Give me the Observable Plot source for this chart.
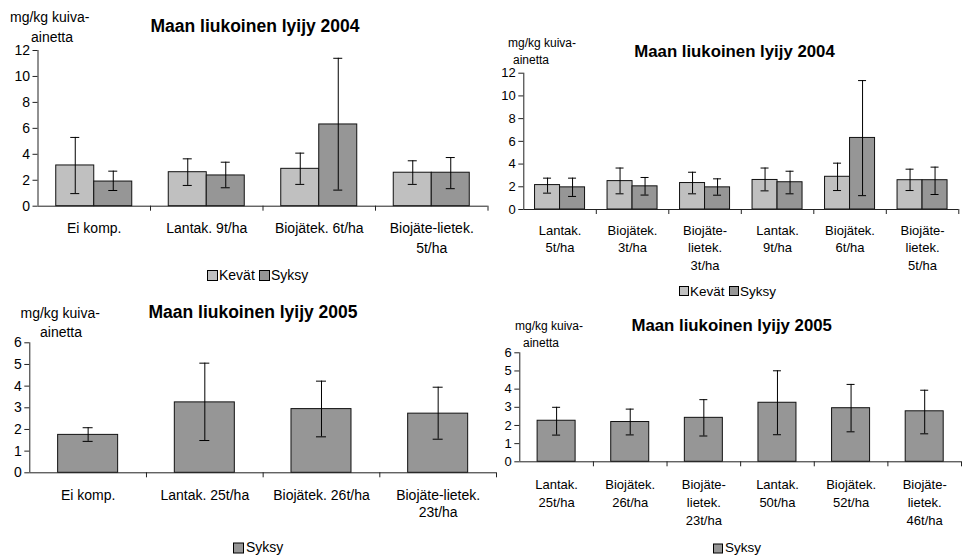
<!DOCTYPE html>
<html>
<head>
<meta charset="utf-8">
<script src="https://cdn.jsdelivr.net/npm/d3@7"></script>
<script src="https://cdn.jsdelivr.net/npm/@observablehq/plot@0.6"></script>
<style>
  html, body { margin: 0; padding: 0; background: #fff; }
  body { width: 962px; height: 555px; position: relative; overflow: hidden; font-family: 'Liberation Sans', Arial, Helvetica, sans-serif; }
  .panel { position: absolute; }
  .panel svg { max-width: none !important; background: none !important; overflow: visible; }
  #overlay { position: absolute; left: 0; top: 0; pointer-events: none; }
</style>
</head>
<body>
<div id="c1" class="panel"></div>
<div id="c2" class="panel"></div>
<div id="c3" class="panel"></div>
<div id="c4" class="panel"></div>
<script>
// ---------- DATA ----------
const title2004 = "Maan liukoinen lyijy 2004";
const title2005 = "Maan liukoinen lyijy 2005";
const unitLine1 = "mg/kg kuiva-";
const unitLine2 = "ainetta";
const seriesNames = ["Kevät", "Syksy"];

// Chart 1: 2004, four treatments
const cats2004a = ["Ei komp.", "Lantak. 9t/ha", "Biojätek. 6t/ha", "Biojäte-lietek.\n5t/ha"];
const kevat2004a   = [3.14, 2.62, 2.88, 2.58];
const kevat2004aHi = [5.30, 3.65, 4.09, 3.50];
const kevat2004aLo = [0.97, 1.60, 1.68, 1.68];
const syksy2004a   = [1.90, 2.37, 6.30, 2.58];
const syksy2004aHi = [2.70, 3.39, 11.40, 3.75];
const syksy2004aLo = [1.21, 1.42, 1.24, 1.35];

// Chart 2: 2004, six treatments
const cats2004b = ["Lantak.\n5t/ha", "Biojätek.\n3t/ha", "Biojäte-\nlietek.\n3t/ha", "Lantak.\n9t/ha", "Biojätek.\n6t/ha", "Biojäte-\nlietek.\n5t/ha"];
const kevat2004b   = [2.15, 2.50, 2.33, 2.60, 2.88, 2.58];
const kevat2004bHi = [2.76, 3.65, 3.28, 3.65, 4.08, 3.55];
const kevat2004bLo = [1.44, 1.38, 1.38, 1.64, 1.67, 1.67];
const syksy2004b   = [1.95, 2.04, 1.95, 2.40, 6.30, 2.58];
const syksy2004bHi = [2.76, 2.82, 2.70, 3.37, 11.35, 3.73];
const syksy2004bLo = [1.15, 1.27, 1.26, 1.38, 1.22, 1.32];

// Chart 3: 2005, four treatments
const cats2005a = ["Ei komp.", "Lantak. 25t/ha", "Biojätek. 26t/ha", "Biojäte-lietek.\n23t/ha"];
const syksy2005a   = [1.75, 3.25, 2.94, 2.73];
const syksy2005aHi = [2.08, 5.06, 4.23, 3.95];
const syksy2005aLo = [1.45, 1.49, 1.66, 1.55];

// Chart 4: 2005, six treatments
const cats2005b = ["Lantak.\n25t/ha", "Biojätek.\n26t/ha", "Biojäte-\nlietek.\n23t/ha", "Lantak.\n50t/ha", "Biojätek.\n52t/ha", "Biojäte-\nlietek.\n46t/ha"];
const syksy2005b   = [2.26, 2.19, 2.42, 3.25, 2.95, 2.78];
const syksy2005bHi = [3.00, 2.90, 3.42, 5.01, 4.26, 3.94];
const syksy2005bLo = [1.47, 1.48, 1.42, 1.49, 1.65, 1.54];

const ticks2004 = [0, 2, 4, 6, 8, 10, 12];
const ticks2005 = [0, 1, 2, 3, 4, 5, 6];

// ---------- STYLE ----------
const FONT = "'Liberation Sans', Arial, Helvetica, sans-serif";
const COL_KEVAT = "#c0c0c0";
const COL_SYKSY = "#969696";
const AXIS = "#222";

function chart(el, cfg) {
  const {cats, series, yTicks, width, height, mt, mb, ml, mr, barW, capW, fs, lh, pad, left, top} = cfg;
  const yMax = yTicks[yTicks.length - 1];
  const step = (width - ml - mr) / cats.length;
  const n = series.length;
  const bars = [], errs = [];
  series.forEach((s, k) => {
    const off = (k - (n - 1) / 2) * barW;
    const rows = cats.map((c, i) => ({cat: c, v: s.values[i], hi: s.hi[i], lo: s.lo[i]}));
    bars.push(Plot.barY(rows, {
      x: "cat", y: "v", fill: s.fill, stroke: "#111", strokeWidth: 1,
      insetLeft: step / 2 + off - barW / 2, insetRight: step / 2 - off - barW / 2
    }));
    errs.push(Plot.ruleX(rows, {x: "cat", y1: "lo", y2: "hi", dx: off, stroke: "#000", strokeWidth: 1}));
    errs.push(Plot.tickY(rows, {x: "cat", y: "hi", dx: off, stroke: "#000", strokeWidth: 1, insetLeft: step / 2 - capW / 2, insetRight: step / 2 - capW / 2}));
    errs.push(Plot.tickY(rows, {x: "cat", y: "lo", dx: off, stroke: "#000", strokeWidth: 1, insetLeft: step / 2 - capW / 2, insetRight: step / 2 - capW / 2}));
  });
  const svg = Plot.plot({
    width, height,
    marginTop: mt, marginBottom: mb, marginLeft: ml, marginRight: mr,
    style: {fontFamily: FONT, fontSize: fs + "px", color: "#000", background: "none", overflow: "visible"},
    x: {type: "band", domain: cats, padding: 0, round: false},
    y: {domain: [0, yMax], ticks: yTicks},
    marks: [
      ...bars,
      ...errs,
      Plot.ruleY([0], {stroke: AXIS, strokeWidth: 1}),
      Plot.ruleX([cats[0]], {x: d => d, y1: 0, y2: yMax, dx: -step / 2, stroke: AXIS, strokeWidth: 1}),
      Plot.ruleX(cats.slice(1), {x: d => d, y1: 0, y2: 0, dx: -step / 2, insetBottom: -5, stroke: AXIS, strokeWidth: 1}),
      Plot.ruleX([cats[cats.length - 1]], {x: d => d, y1: 0, y2: 0, dx: step / 2, insetBottom: -5, stroke: AXIS, strokeWidth: 1}),
      Plot.axisY({ticks: yTicks, tickFormat: d => String(d), tickSize: 5, tickPadding: 3, fontSize: fs, label: null, stroke: AXIS}),
      Plot.axisX({tickSize: 0, tickPadding: pad, fontSize: fs, lineHeight: lh, label: null})
    ]
  });
  const div = document.getElementById(el);
  div.style.left = left + "px";
  div.style.top = top + "px";
  div.style.width = width + "px";
  div.style.height = height + "px";
  div.appendChild(svg);
}

chart("c1", {
  cats: cats2004a, yTicks: ticks2004,
  series: [
    {values: kevat2004a, hi: kevat2004aHi, lo: kevat2004aLo, fill: COL_KEVAT},
    {values: syksy2004a, hi: syksy2004aHi, lo: syksy2004aLo, fill: COL_SYKSY}
  ],
  left: 0, top: 0, width: 490, height: 290, mt: 50, mb: 84.3, ml: 37.5, mr: 2.5,
  barW: 38, capW: 9, fs: 14, lh: 20 / 14, pad: 13
});
chart("c2", {
  cats: cats2004b, yTicks: ticks2004,
  series: [
    {values: kevat2004b, hi: kevat2004bHi, lo: kevat2004bLo, fill: COL_KEVAT},
    {values: syksy2004b, hi: syksy2004bHi, lo: syksy2004bLo, fill: COL_SYKSY}
  ],
  left: 490, top: 0, width: 472, height: 310, mt: 72.7, mb: 101, ml: 33.3, mr: 3.7,
  barW: 25, capW: 8, fs: 13, lh: 17.5 / 13, pad: 13
});
chart("c3", {
  cats: cats2005a, yTicks: ticks2005,
  series: [{values: syksy2005a, hi: syksy2005aHi, lo: syksy2005aLo, fill: COL_SYKSY}],
  left: 0, top: 290, width: 500, height: 265, mt: 52.3, mb: 82.7, ml: 29.3, mr: 4,
  barW: 60, capW: 10, fs: 14, lh: 17 / 14, pad: 15
});
chart("c4", {
  cats: cats2005b, yTicks: ticks2005,
  series: [{values: syksy2005b, hi: syksy2005bHi, lo: syksy2005bLo, fill: COL_SYKSY}],
  left: 500, top: 290, width: 462, height: 265, mt: 62.3, mb: 93.7, ml: 19.3, mr: 1,
  barW: 38, capW: 8, fs: 13, lh: 18 / 13, pad: 14
});

// ---------- titles, unit labels, legends ----------
const ov = d3.select("body").append("svg").attr("id", "overlay")
  .attr("width", 962).attr("height", 555)
  .style("font-family", FONT);

function txt(s, x, y, size, opts = {}) {
  ov.append("text").attr("x", x).attr("y", y).attr("font-size", size)
    .attr("font-weight", opts.bold ? "bold" : null)
    .attr("text-anchor", opts.anchor || "start").attr("fill", "#000").text(s);
}
function swatch(x, y, s, fill) {
  ov.append("rect").attr("x", x + 0.5).attr("y", y + 0.5).attr("width", s).attr("height", s)
    .attr("fill", fill).attr("stroke", "#000").attr("stroke-width", 1);
}

// chart 1
txt(title2004, 255, 31.5, 17.5, {bold: true, anchor: "middle"});
txt(unitLine1, 10, 21.5, 14);
txt(unitLine2, 31, 41.5, 14);
swatch(207, 270, 10, COL_KEVAT); txt(seriesNames[0], 219, 279.5, 14);
swatch(259, 270, 10, COL_SYKSY); txt(seriesNames[1], 271, 279.5, 14);

// chart 2
txt(title2004, 734.5, 56.5, 16.8, {bold: true, anchor: "middle"});
txt(unitLine1, 508, 46.5, 12);
txt(unitLine2, 513, 64.3, 12);
swatch(679, 286, 9, COL_KEVAT); txt(seriesNames[0], 690, 295.5, 13.5);
swatch(729, 286, 9, COL_SYKSY); txt(seriesNames[1], 740, 295.5, 13.5);

// chart 3
txt(title2005, 253, 318, 17.5, {bold: true, anchor: "middle"});
txt(unitLine1, 20.5, 318, 14);
txt(unitLine2, 40, 336.5, 14);
swatch(233, 542.5, 10, COL_SYKSY); txt(seriesNames[1], 246, 552, 14);

// chart 4
txt(title2005, 731.7, 330.5, 16.8, {bold: true, anchor: "middle"});
txt(unitLine1, 515, 330, 12);
txt(unitLine2, 523, 346.5, 12);
swatch(713, 543.5, 9, COL_SYKSY); txt(seriesNames[1], 725, 552, 13.5);
</script>
</body>
</html>
